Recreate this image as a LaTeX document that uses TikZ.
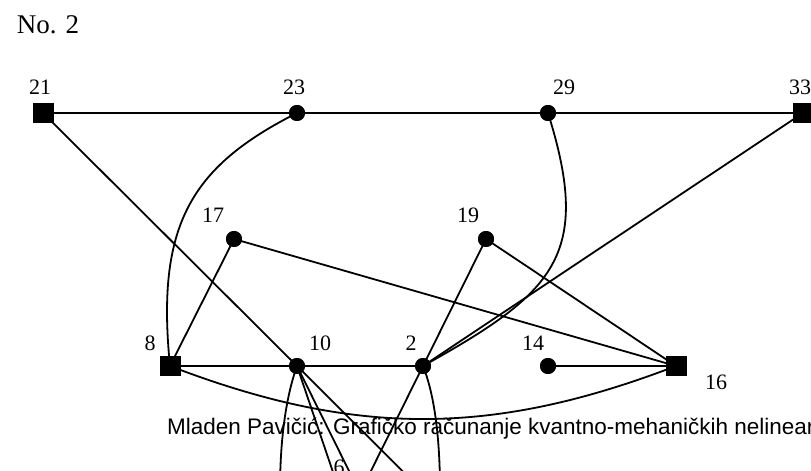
\documentclass[tikz,border=0pt]{standalone}
\usepackage{fontspec}
\setmainfont{Liberation Serif}
\newfontfamily\capfont{Liberation Sans}
\usetikzlibrary{calc}
\begin{document}
\begin{tikzpicture}[x=1pt,y=1pt,
  dotnode/.style={circle,fill=black,inner sep=0pt,minimum size=16pt},
  sqnode/.style={rectangle,fill=black,inner sep=0pt,minimum width=21pt,minimum height=20pt},
  edge/.style={line width=1.8pt,line cap=round},
  lbl/.style={font=\fontsize{22}{22}\selectfont,inner sep=0pt},
  capstyle/.style={font=\capfont\fontsize{22.5}{22.5}\selectfont,inner sep=0pt}]
\useasboundingbox (0,0) rectangle (811,471);
\clip (0,0) rectangle (811,471);
% vertices
\node[sqnode]  (n21) at (43,358) {};
\node[dotnode] (n23) at (297,358) {};
\node[dotnode] (n29) at (548,358) {};
\node[sqnode]  (n33) at (803,358) {};
\node[dotnode] (n17) at (234,232) {};
\node[dotnode] (n19) at (486,232) {};
\node[sqnode]  (n8)  at (170,105) {};
\node[dotnode] (n10) at (297,105) {};
\node[dotnode] (n2)  at (423,105) {};
\node[dotnode] (n14) at (548,105) {};
\node[sqnode]  (n16) at (676,105) {};
% free ends below the frame
\coordinate (b21) at ($(n21.center)!1.6!(n10.center)$);
\coordinate (b19) at ($(n19.center)!2!(n2.center)$);
\coordinate (b6)  at (354,-10);
\coordinate (b6a) at (336,-10);
\coordinate (bl)  at (280,-20);
\coordinate (br)  at (440,-20);
% edges
\draw[edge] (n21.center) -- (n33.center);
\draw[edge] (n8.center) -- (n2.center);
\draw[edge] (n14.center) -- (n16.center);
\draw[edge] (n17.center) -- (n8.center);
\draw[edge] (n17.center) -- (n16.center);
\draw[edge] (n19.center) -- (n16.center);
\draw[edge] (n33.center) -- (n2.center);
\draw[edge] (n21.center) -- (b21);
\draw[edge] (n19.center) -- (b19);
\draw[edge] (n10.center) -- (b6);
\draw[edge] (n10.center) -- (b6a);
\draw[edge] (n23.center) .. controls (190,304) and (156,245) .. (n8.center);
\draw[edge] (n29.center) .. controls (593,215) and (554,178) .. (n2.center);
\draw[edge] (n8.center) to[bend right=21] (n16.center);
\draw[edge] (n10.center) .. controls (288,80) and (280,40) .. (bl);
\draw[edge] (n2.center) .. controls (433,80) and (440,40) .. (br);
% redraw vertices on top
\foreach \n in {n23,n29,n17,n19,n10,n2,n14} \fill (\n) circle (8pt);
\foreach \n in {n21,n33,n8,n16} \fill ($(\n)+(-10.5,-10)$) rectangle ($(\n)+(10.5,10)$);
% labels
\node[font=\fontsize{27}{27}\selectfont,inner sep=0pt] (title) at (48,446) {No. 2};
\node[lbl] (l21) at (40,384) {21};
\node[lbl] (l23) at (294,384) {23};
\node[lbl] (l29) at (564,384) {29};
\node[lbl] (l33) at (800,384) {33};
\node[lbl] (l17) at (213,256) {17};
\node[lbl] (l19) at (468,256) {19};
\node[lbl] (l8)  at (150,128) {8};
\node[lbl] (l10) at (320,128) {10};
\node[lbl] (l2)  at (411,128) {2};
\node[lbl] (l14) at (533,128) {14};
\node[lbl] (l16) at (716,89) {16};
\node[lbl] (l6)  at (339,4) {6};
\node[capstyle,anchor=base west] (cap) at (167,36) {Mladen Pavičić: Grafičko računanje kvantno-mehaničkih nelinear};
\end{tikzpicture}
\end{document}
